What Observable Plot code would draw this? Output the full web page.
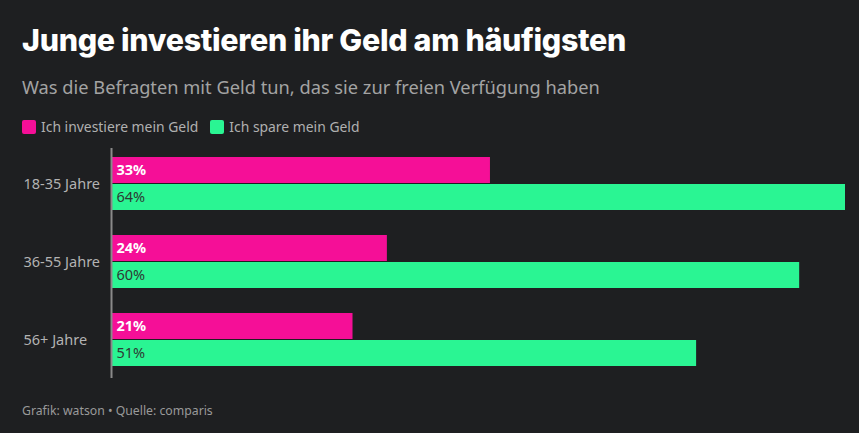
<!DOCTYPE html>
<html><head><meta charset="utf-8">
<script src="https://cdn.jsdelivr.net/npm/d3@7"></script>
<script src="https://cdn.jsdelivr.net/npm/@observablehq/plot@0.6"></script>
<style>
html,body{margin:0;padding:0;background:#1e1f21;}
#wrap{position:relative;width:859px;height:433px;overflow:hidden;font-family:"Noto Sans",sans-serif;}
#title{position:absolute;left:22px;top:22px;font-family:Inter,sans-serif;font-weight:800;font-size:30.4px;color:#fff;letter-spacing:-0.3px;white-space:nowrap;}
#subtitle{position:absolute;left:22px;top:74px;font-size:18.25px;color:#a3a3a3;white-space:nowrap;}
#legend{position:absolute;left:22px;top:117px;font-size:13.9px;color:#b0b0b0;display:flex;align-items:center;white-space:nowrap;}
.sw{display:inline-block;width:14px;height:14px;border-radius:2px;margin-right:5px;}
.it{display:flex;align-items:center;margin-right:12px;}
#chart{position:absolute;left:0;top:140px;}
#footer{position:absolute;left:22px;top:402px;font-size:12.25px;color:#9a9a9a;white-space:nowrap;}
</style></head>
<body>
<div id="wrap">
<div id="title"></div>
<div id="subtitle"></div>
<div id="legend"></div>
<div id="chart"></div>
<div id="footer"></div>
</div>
<script>
const titleText = "Junge investieren ihr Geld am häufigsten";
const subtitleText = "Was die Befragten mit Geld tun, das sie zur freien Verfügung haben";
const footerText = "Grafik: watson • Quelle: comparis";
const groups = ["18-35 Jahre", "36-55 Jahre", "56+ Jahre"];
const investValues = [33, 24, 21];
const saveValues = [64, 60, 51];
const seriesNames = ["Ich investiere mein Geld", "Ich spare mein Geld"];
const seriesColors = ["#f50f97", "#2af593"];

document.getElementById("title").textContent = titleText;
document.getElementById("subtitle").textContent = subtitleText;
document.getElementById("footer").textContent = footerText;
const leg = document.getElementById("legend");
seriesNames.forEach((n, i) => {
  const it = document.createElement("span"); it.className = "it";
  const sw = document.createElement("span"); sw.className = "sw"; sw.style.background = seriesColors[i];
  it.appendChild(sw); it.appendChild(document.createTextNode(n)); leg.appendChild(it);
});

const invest = groups.map((g, i) => ({group: g, value: investValues[i]}));
const save = groups.map((g, i) => ({group: g, value: saveValues[i]}));

const chart = Plot.plot({
  width: 859,
  height: 245,
  marginLeft: 112,
  marginRight: 14,
  marginTop: 8,
  marginBottom: 7,
  style: {background: "transparent", fontFamily: "'Noto Sans', sans-serif"},
  x: {domain: [0, 64], axis: null},
  y: {domain: groups, paddingInner: 0.316, paddingOuter: 0.114, align: 0.444, axis: null},
  marks: [
    Plot.barX(invest, {y: "group", x: "value", fill: seriesColors[0], insetBottom: 27}),
    Plot.barX(save, {y: "group", x: "value", fill: seriesColors[1], insetTop: 27}),
    Plot.text(invest, {y: "group", x: 0, text: d => d.value + "%", textAnchor: "start", dx: 4, dy: -13.5, fill: "#ffffff", fontWeight: "bold", fontSize: 14.5}),
    Plot.text(save, {y: "group", x: 0, text: d => d.value + "%", textAnchor: "start", dx: 4, dy: 13.5, fill: "#2e3a33", fontSize: 14.5}),
    Plot.ruleX([0], {stroke: "#8a8a8a", strokeWidth: 2, dx: -1}),
    Plot.axisY({tickSize: 0, tickPadding: 89, textAnchor: "start", fill: "#b3b3b3", fontSize: 14.5, label: null})
  ]
});
document.getElementById("chart").appendChild(chart);
</script>
</body></html>
